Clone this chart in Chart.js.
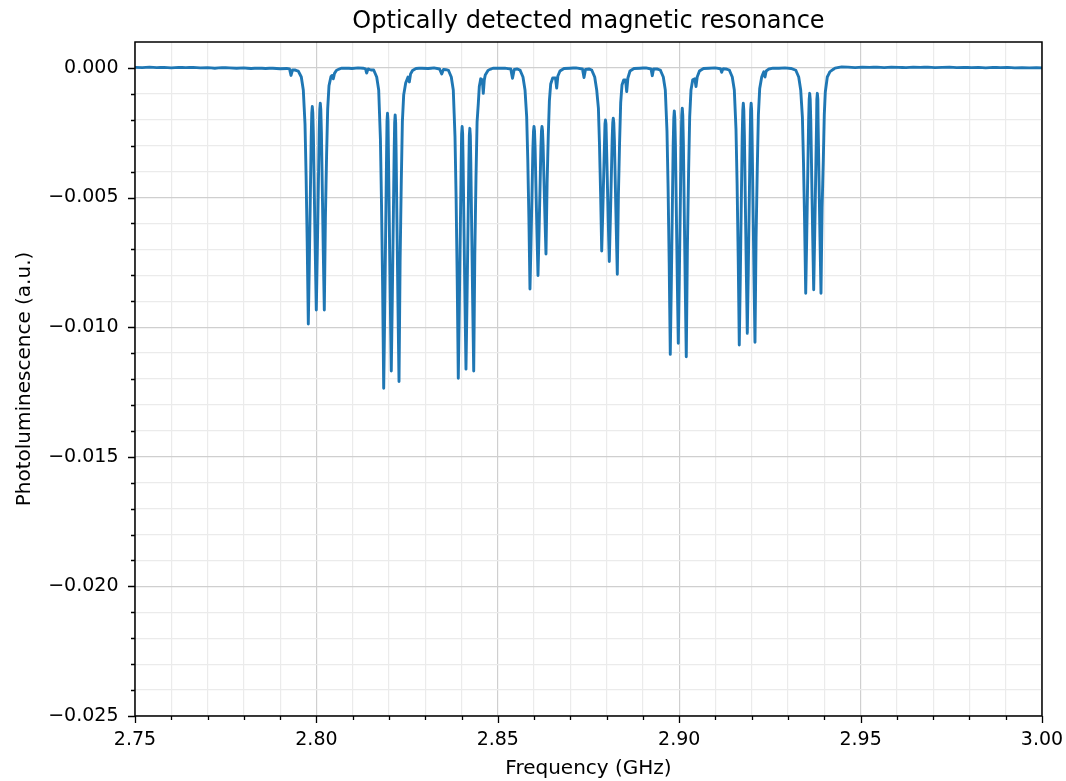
<!DOCTYPE html>
<html>
<head>
<meta charset="utf-8">
<script src="https://cdn.jsdelivr.net/npm/chart.js@4.4.1/dist/chart.umd.min.js"></script>
<style>
html, body { margin: 0; padding: 0; background: #ffffff; }
#wrap { width: 1066px; height: 781px; }
</style>
</head>
<body>
<div id="wrap"><canvas id="chart" width="1066" height="781"></canvas></div>
<script>
// ---- Text ----
const chartTitle = 'Optically detected magnetic resonance';
const xAxisTitle = 'Frequency (GHz)';
const yAxisTitle = 'Photoluminescence (a.u.)';

// ---- Ticks ----
const xMajorTicks = [2.75, 2.80, 2.85, 2.90, 2.95, 3.00];
const xTickLabels = ['2.75', '2.80', '2.85', '2.90', '2.95', '3.00'];
const xMinorTicks = [2.76, 2.77, 2.78, 2.79, 2.81, 2.82, 2.83, 2.84, 2.86, 2.87, 2.88, 2.89,
                     2.91, 2.92, 2.93, 2.94, 2.96, 2.97, 2.98, 2.99];
const yMajorTicks = [-0.025, -0.020, -0.015, -0.010, -0.005, 0.000];
const yTickLabels = ['\u22120.025', '\u22120.020', '\u22120.015', '\u22120.010', '\u22120.005', '0.000'];
const yMinorTicks = [-0.024, -0.023, -0.022, -0.021, -0.019, -0.018, -0.017, -0.016, -0.014, -0.013,
                     -0.012, -0.011, -0.009, -0.008, -0.007, -0.006, -0.004, -0.003, -0.002, -0.001];

// ---- Spectrum: [frequency (GHz), photoluminescence (a.u.)] ----
const baselineLeft = [[2.7500,0.00002],[2.7520,0.00001],[2.7540,0.00003],[2.7560,0.00001],[2.7580,0.00002],
  [2.7600,0.00000],[2.7620,0.00002],[2.7640,0.00001],[2.7660,0.00002],[2.7680,0.00000],[2.7700,0.00001],
  [2.7720,-0.00001],[2.7740,0.00001],[2.7760,0.00000],[2.7780,-0.00001],[2.7800,0.00000],[2.7820,-0.00002],
  [2.7840,-0.00001],[2.7860,-0.00002],[2.7880,-0.00001],[2.7900,-0.00003]];

const dipGroup1 = [[2.79181,-0.00002],[2.79259,-0.00004],[2.79300,-0.00029],[2.79341,-0.00008],[2.79410,-0.00008],
  [2.79501,-0.00012],[2.79584,-0.00035],[2.79639,-0.00085],[2.79686,-0.00217],[2.79716,-0.00415],[2.79746,-0.00672],
  [2.79777,-0.00988],
  [2.79805,-0.00753],[2.79832,-0.00501],[2.79857,-0.00266],[2.79873,-0.00174],[2.79887,-0.00149],
  [2.79901,-0.00173],[2.79917,-0.00259],[2.79942,-0.00479],[2.79969,-0.00714],
  [2.79997,-0.00934],
  [2.80025,-0.00711],[2.80052,-0.00471],[2.80077,-0.00248],[2.80093,-0.00160],[2.80107,-0.00136],
  [2.80121,-0.00160],[2.80138,-0.00248],[2.80163,-0.00471],[2.80190,-0.00711],
  [2.80218,-0.00934],
  [2.80248,-0.00579],[2.80281,-0.00336],[2.80311,-0.00158],[2.80347,-0.00069],[2.80402,-0.00033],[2.80435,-0.00029],
  [2.80466,-0.00042],[2.80499,-0.00021],[2.80559,-0.00008],[2.80692,-0.00001]];

const gap12 = [[2.80816,-0.00001],[2.80981,-0.00002],[2.81147,0.00000],[2.81284,-0.00001],[2.81353,-0.00004],
  [2.81386,-0.00020],[2.81422,-0.00004],[2.81505,-0.00008]];

const dipGroup2 = [[2.81579,-0.00008],[2.81662,-0.00035],[2.81717,-0.00085],[2.81764,-0.00272],[2.81794,-0.00519],
  [2.81825,-0.00840],
  [2.81855,-0.01236],
  [2.81883,-0.00939],[2.81910,-0.00621],[2.81935,-0.00324],[2.81946,-0.00207],[2.81960,-0.00175],
  [2.81974,-0.00205],[2.81984,-0.00314],[2.82009,-0.00592],[2.82036,-0.00891],
  [2.82064,-0.01169],
  [2.82092,-0.00892],[2.82119,-0.00596],[2.82144,-0.00319],[2.82157,-0.00211],[2.82171,-0.00181],
  [2.82185,-0.00212],[2.82197,-0.00325],[2.82222,-0.00613],[2.82249,-0.00922],
  [2.82277,-0.01210],
  [2.82307,-0.00750],[2.82340,-0.00436],[2.82370,-0.00206],[2.82406,-0.00104],[2.82461,-0.00058],[2.82525,-0.00035],
  [2.82561,-0.00054],[2.82596,-0.00023],[2.82649,-0.00010],[2.82745,-0.00002]];

const gap23 = [[2.82911,-0.00001],[2.83076,-0.00002],[2.83241,0.00000],[2.83393,-0.00004],[2.83454,-0.00023],
  [2.83503,-0.00006]];

const dipGroup3 = [[2.83636,-0.00008],[2.83718,-0.00035],[2.83773,-0.00085],[2.83820,-0.00264],[2.83851,-0.00503],
  [2.83881,-0.00814],
  [2.83911,-0.01197],
  [2.83939,-0.00925],[2.83966,-0.00634],[2.83991,-0.00362],[2.84003,-0.00255],[2.84017,-0.00226],
  [2.84031,-0.00254],[2.84043,-0.00357],[2.84068,-0.00619],[2.84095,-0.00900],
  [2.84123,-0.01162],
  [2.84151,-0.00902],[2.84178,-0.00623],[2.84203,-0.00363],[2.84215,-0.00261],[2.84229,-0.00233],
  [2.84243,-0.00261],[2.84256,-0.00364],[2.84281,-0.00626],[2.84308,-0.00907],
  [2.84336,-0.01169],
  [2.84366,-0.00725],[2.84399,-0.00421],[2.84429,-0.00208],[2.84462,-0.00139],[2.84490,-0.00072],[2.84529,-0.00042],
  [2.84573,-0.00046],[2.84600,-0.00098],[2.84628,-0.00046],[2.84655,-0.00027],[2.84738,-0.00008],[2.84876,-0.00001]];

const gap34 = [[2.85033,-0.00001],[2.85198,-0.00001],[2.85358,-0.00004],[2.85405,-0.00040],[2.85452,-0.00006],
  [2.85529,-0.00004]];

const dipGroup4 = [[2.85612,-0.00008],[2.85694,-0.00035],[2.85750,-0.00085],[2.85796,-0.00188],[2.85827,-0.00358],
  [2.85857,-0.00580],
  [2.85887,-0.00853],
  [2.85915,-0.00677],[2.85942,-0.00489],[2.85967,-0.00314],[2.85984,-0.00245],[2.85998,-0.00226],
  [2.86012,-0.00243],[2.86028,-0.00307],[2.86053,-0.00468],[2.86080,-0.00640],
  [2.86108,-0.00801],
  [2.86136,-0.00640],[2.86163,-0.00468],[2.86188,-0.00307],[2.86204,-0.00243],[2.86218,-0.00226],
  [2.86232,-0.00241],[2.86248,-0.00295],[2.86273,-0.00433],[2.86300,-0.00580],
  [2.86328,-0.00718],
  [2.86359,-0.00445],[2.86392,-0.00258],[2.86422,-0.00127],[2.86458,-0.00062],[2.86513,-0.00039],[2.86590,-0.00039],
  [2.86623,-0.00078],[2.86656,-0.00031],[2.86714,-0.00012],[2.86825,-0.00002]];

const gap45 = [[2.86990,-0.00001],[2.87155,0.00000],[2.87334,-0.00004],[2.87376,-0.00037],[2.87417,-0.00006],
  [2.87514,-0.00004]];

const dipGroup5 = [[2.87588,-0.00008],[2.87671,-0.00035],[2.87726,-0.00085],[2.87773,-0.00155],[2.87803,-0.00297],
  [2.87833,-0.00480],
  [2.87864,-0.00706],
  [2.87892,-0.00565],[2.87919,-0.00413],[2.87944,-0.00272],[2.87954,-0.00216],[2.87968,-0.00201],
  [2.87982,-0.00217],[2.87993,-0.00277],[2.88018,-0.00430],[2.88045,-0.00594],
  [2.88073,-0.00747],
  [2.88101,-0.00592],[2.88128,-0.00426],[2.88153,-0.00271],[2.88169,-0.00211],[2.88183,-0.00194],
  [2.88197,-0.00212],[2.88214,-0.00278],[2.88239,-0.00447],[2.88266,-0.00627],
  [2.88294,-0.00796],
  [2.88324,-0.00493],[2.88357,-0.00287],[2.88387,-0.00135],[2.88423,-0.00066],[2.88470,-0.00046],[2.88520,-0.00046],
  [2.88553,-0.00091],[2.88586,-0.00039],[2.88644,-0.00012],[2.88754,-0.00002]];

const gap56 = [[2.88919,-0.00001],[2.89085,0.00000],[2.89223,-0.00004],[2.89258,-0.00030],[2.89294,-0.00004],
  [2.89388,-0.00004]];

const dipGroup6 = [[2.89479,-0.00008],[2.89562,-0.00035],[2.89617,-0.00085],[2.89663,-0.00243],[2.89694,-0.00464],
  [2.89724,-0.00751],
  [2.89754,-0.01105],
  [2.89782,-0.00842],[2.89809,-0.00560],[2.89834,-0.00297],[2.89851,-0.00194],[2.89865,-0.00166],
  [2.89879,-0.00193],[2.89895,-0.00291],[2.89920,-0.00542],[2.89947,-0.00811],
  [2.89975,-0.01062],
  [2.90003,-0.00808],[2.90030,-0.00536],[2.90055,-0.00282],[2.90071,-0.00182],[2.90085,-0.00155],
  [2.90099,-0.00184],[2.90115,-0.00289],[2.90140,-0.00558],[2.90167,-0.00845],
  [2.90195,-0.01114],
  [2.90226,-0.00691],[2.90259,-0.00401],[2.90289,-0.00189],[2.90325,-0.00085],[2.90372,-0.00046],[2.90430,-0.00042],
  [2.90463,-0.00072],[2.90496,-0.00035],[2.90559,-0.00012],[2.90670,-0.00002]];

const gap67 = [[2.90821,-0.00001],[2.90987,0.00000],[2.91138,-0.00003],[2.91171,-0.00017],[2.91207,-0.00003],
  [2.91290,-0.00004]];

const dipGroup7 = [[2.91381,-0.00008],[2.91463,-0.00035],[2.91519,-0.00085],[2.91565,-0.00235],[2.91596,-0.00449],
  [2.91626,-0.00727],
  [2.91656,-0.01069],
  [2.91684,-0.00808],[2.91711,-0.00528],[2.91736,-0.00267],[2.91753,-0.00164],[2.91767,-0.00136],
  [2.91781,-0.00163],[2.91797,-0.00260],[2.91822,-0.00509],[2.91849,-0.00775],
  [2.91877,-0.01024],
  [2.91905,-0.00775],[2.91932,-0.00509],[2.91957,-0.00260],[2.91969,-0.00163],[2.91983,-0.00136],
  [2.91997,-0.00164],[2.92009,-0.00265],[2.92034,-0.00523],[2.92061,-0.00800],
  [2.92089,-0.01058],
  [2.92119,-0.00656],[2.92153,-0.00381],[2.92183,-0.00180],[2.92219,-0.00079],[2.92274,-0.00035],[2.92332,-0.00015],
  [2.92365,-0.00035],[2.92398,-0.00012],[2.92475,-0.00004],[2.92585,-0.00001]];

const gap78 = [[2.92751,-0.00001],[2.92916,0.00000],[2.93081,-0.00002]];

const dipGroup8 = [[2.93211,-0.00008],[2.93294,-0.00035],[2.93349,-0.00085],[2.93396,-0.00191],[2.93426,-0.00365],
  [2.93456,-0.00591],
  [2.93487,-0.00869],
  [2.93515,-0.00653],[2.93542,-0.00422],[2.93567,-0.00206],[2.93583,-0.00121],[2.93597,-0.00098],
  [2.93611,-0.00121],[2.93627,-0.00204],[2.93652,-0.00416],[2.93679,-0.00644],
  [2.93707,-0.00856],
  [2.93735,-0.00644],[2.93762,-0.00416],[2.93787,-0.00204],[2.93794,-0.00121],[2.93808,-0.00098],
  [2.93822,-0.00121],[2.93828,-0.00206],[2.93853,-0.00422],[2.93880,-0.00653],
  [2.93908,-0.00869],
  [2.93939,-0.00539],[2.93972,-0.00355],[2.93999,-0.00181],[2.94027,-0.00093],[2.94082,-0.00035],[2.94156,-0.00014],
  [2.94294,-0.00001],[2.94479,0.00004]];

const baselineRight = [[2.9465,0.00003],[2.9485,0.00001],[2.9505,0.00003],[2.9525,0.00002],[2.9545,0.00003],
  [2.9565,0.00001],[2.9585,0.00003],[2.9605,0.00002],[2.9625,0.00001],[2.9645,0.00003],[2.9665,0.00002],
  [2.9685,0.00003],[2.9705,0.00001],[2.9725,0.00002],[2.9745,0.00003],[2.9765,0.00001],[2.9785,0.00002],
  [2.9805,0.00001],[2.9825,0.00002],[2.9845,0.00000],[2.9865,0.00002],[2.9885,0.00001],[2.9905,0.00002],
  [2.9925,0.00000],[2.9945,0.00001],[2.9965,0.00000],[2.9985,0.00001],[3.0000,0.00000]];

// ---- Build ----
const segments = [baselineLeft, dipGroup1, gap12, dipGroup2, gap23, dipGroup3, gap34, dipGroup4, gap45,
  dipGroup5, gap56, dipGroup6, gap67, dipGroup7, gap78, dipGroup8, baselineRight];
const spectrum = [].concat(...segments).map(([x, y]) => ({ x, y }));

const near = (a, b) => Math.abs(a - b) < 1e-7;
const majorIndex = (list, v) => list.findIndex(m => near(m, v));
const xAllTicks = [...xMajorTicks, ...xMinorTicks].sort((a, b) => a - b);
const yAllTicks = [...yMajorTicks, ...yMinorTicks].sort((a, b) => a - b);

const FONT = 'DejaVu Sans';
const MAJOR_GRID = '#cfcfcf';
const MINOR_GRID = '#ebebeb';

const axisDecor = {
  id: 'axisDecor',
  afterDraw(chart) {
    const { ctx, chartArea: a, scales: { x, y } } = chart;
    ctx.save();
    ctx.strokeStyle = '#000';
    ctx.lineWidth = 1.3;
    ctx.beginPath();
    x.ticks.forEach(t => {
      const px = Math.round(x.getPixelForValue(t.value)) + 0.5;
      const len = majorIndex(xMajorTicks, t.value) >= 0 ? 7 : 4;
      ctx.moveTo(px, a.bottom);
      ctx.lineTo(px, a.bottom + len);
    });
    y.ticks.forEach(t => {
      const py = Math.round(y.getPixelForValue(t.value)) + 0.5;
      const len = majorIndex(yMajorTicks, t.value) >= 0 ? 7 : 4;
      ctx.moveTo(a.left, py);
      ctx.lineTo(a.left - len, py);
    });
    ctx.stroke();
    ctx.lineWidth = 1.5;
    ctx.strokeRect(a.left, a.top, a.right - a.left, a.bottom - a.top);
    ctx.restore();
  }
};

new Chart(document.getElementById('chart'), {
  type: 'line',
  data: {
    datasets: [{
      data: spectrum,
      borderColor: '#1f77b4',
      borderWidth: 2.9,
      pointRadius: 0,
      // a vanishingly small tension keeps segments straight but avoids the
      // pixel-column "fast path" that collapses the narrow dips
      tension: 0.000001,
      fill: false,
      borderJoinStyle: 'round',
      borderCapStyle: 'butt'
    }]
  },
  options: {
    responsive: false,
    animation: false,
    devicePixelRatio: 1,
    layout: { padding: { left: 0, right: 24, top: 0, bottom: 0 } },
    plugins: {
      legend: { display: false },
      tooltip: { enabled: false },
      title: {
        display: true,
        fullSize: false,
        text: chartTitle,
        color: '#000',
        font: { family: FONT, size: 24, weight: 'normal', lineHeight: 1.2 },
        padding: { top: 7, bottom: 6.2 }
      }
    },
    scales: {
      x: {
        type: 'linear',
        position: 'bottom',
        min: 2.75,
        max: 3.0,
        afterBuildTicks: s => { s.ticks = xAllTicks.map(v => ({ value: v })); },
        afterFit: s => { s.height = 65; s.paddingLeft = 0; s.paddingRight = 0; },
        border: { display: false },
        grid: {
          drawTicks: false,
          lineWidth: 1.2,
          color: c => (c.tick && majorIndex(xMajorTicks, c.tick.value) >= 0) ? MAJOR_GRID : MINOR_GRID
        },
        ticks: {
          autoSkip: false,
          maxRotation: 0,
          padding: 12.5,
          color: '#000',
          font: { family: FONT, size: 19, lineHeight: 1.2 },
          callback: v => { const i = majorIndex(xMajorTicks, v); return i >= 0 ? xTickLabels[i] : ''; }
        },
        title: {
          display: true,
          text: xAxisTitle,
          color: '#000',
          font: { family: FONT, size: 20, lineHeight: 1.2 },
          padding: { top: 0, bottom: 0.5 }
        }
      },
      y: {
        type: 'linear',
        position: 'left',
        min: -0.025,
        max: 0.001,
        afterBuildTicks: s => { s.ticks = yAllTicks.map(v => ({ value: v })); },
        afterFit: s => { s.width = 135; s.paddingTop = 0; s.paddingBottom = 0; },
        border: { display: false },
        grid: {
          drawTicks: false,
          lineWidth: 1.2,
          color: c => (c.tick && majorIndex(yMajorTicks, c.tick.value) >= 0) ? MAJOR_GRID : MINOR_GRID
        },
        ticks: {
          autoSkip: false,
          padding: 16.5,
          color: '#000',
          font: { family: FONT, size: 19, lineHeight: 1.2 },
          callback: v => { const i = majorIndex(yMajorTicks, v); return i >= 0 ? yTickLabels[i] : ''; }
        },
        title: {
          display: true,
          text: yAxisTitle,
          color: '#000',
          font: { family: FONT, size: 20, lineHeight: 1.2 },
          padding: { top: 13, bottom: 0 }
        }
      }
    }
  },
  plugins: [axisDecor]
});
</script>
</body>
</html>
